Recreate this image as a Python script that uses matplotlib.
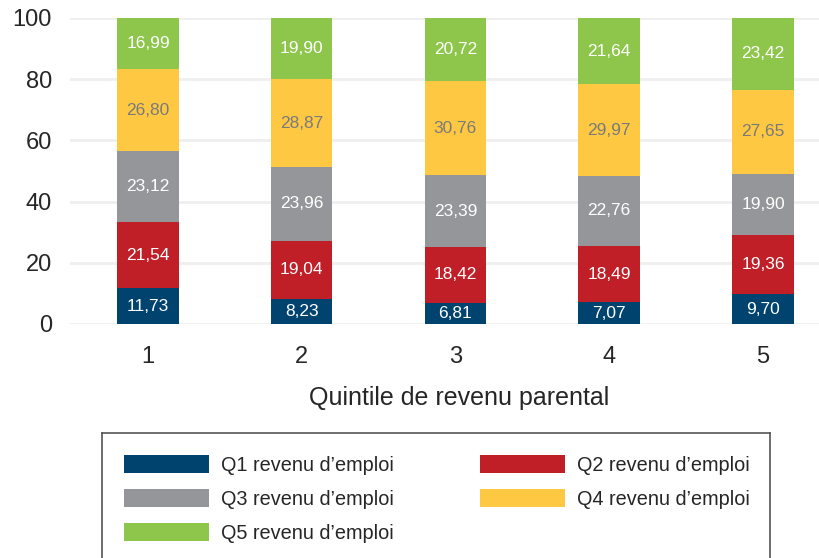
import numpy as np
import matplotlib.pyplot as plt

plt.rcParams['font.family'] = ['Liberation Sans', 'DejaVu Sans']

# Quintile de revenu parental (1..5) et répartition par quintile de revenu d'emploi
quintiles = ['1', '2', '3', '4', '5']
series_names = ['Q1 revenu d\u2019emploi', 'Q2 revenu d\u2019emploi', 'Q3 revenu d\u2019emploi',
                'Q4 revenu d\u2019emploi', 'Q5 revenu d\u2019emploi']
q1 = [11.73, 8.23, 6.81, 7.07, 9.70]
q2 = [21.54, 19.04, 18.42, 18.49, 19.36]
q3 = [23.12, 23.96, 23.39, 22.76, 19.90]
q4 = [26.80, 28.87, 30.76, 29.97, 27.65]
q5 = [16.99, 19.90, 20.72, 21.64, 23.42]

couleurs = ['#00436f', '#c01f27', '#959699', '#fec843', '#8dc64b']
couleurs_texte = ['white', 'white', 'white', '#7a7a7a', 'white']

fig = plt.figure(figsize=(8.2, 5.58), dpi=100)
# l'axe déborde un peu à droite de la figure
ax = fig.add_axes([70 / 820, 1 - 324 / 558, 778 / 820, 306 / 558])

x = np.arange(1, len(quintiles) + 1)
bas = np.zeros(len(quintiles))
conteneurs = []
for valeurs, nom, coul, coul_txt in zip([q1, q2, q3, q4, q5], series_names, couleurs, couleurs_texte):
    valeurs = np.array(valeurs)
    barres = ax.bar(x, valeurs, 0.40, bottom=bas, color=coul, label=nom, zorder=2)
    ax.bar_label(barres, labels=[f'{v:.2f}'.replace('.', ',') for v in valeurs],
                 label_type='center', color=coul_txt, fontsize=12.5)
    conteneurs.append(barres)
    bas += valeurs

ax.set_ylim(0, 100)
ax.set_xlim(0.493, 5.553)
ax.set_yticks(range(0, 101, 20))
ax.set_xticks(x)
ax.set_xticklabels(quintiles)
ax.grid(axis='y', color='#efefef', linewidth=2, zorder=0)
ax.tick_params(length=0, labelsize=17, colors='#262626')
ax.tick_params(axis='x', pad=16)
ax.tick_params(axis='y', pad=13)
for s in ax.spines.values():
    s.set_visible(False)
ax.set_xlabel('Quintile de revenu parental', fontsize=18, color='#262626', labelpad=13)

# Légende dans un cadre qui déborde en bas, remplie ligne par ligne
ax_leg = fig.add_axes([102 / 820, -0.05, 668 / 820, (558 - 433) / 558 + 0.05])
ax_leg.set_xticks([])
ax_leg.set_yticks([])
for s in ax_leg.spines.values():
    s.set_color('#555555')
    s.set_linewidth(1.2)
ordre = [0, 2, 4, 1, 3]
ax_leg.legend([conteneurs[i] for i in ordre], [series_names[i] for i in ordre],
              ncol=2, loc='upper left', bbox_to_anchor=(0, 1),
              frameon=False, fontsize=14.3, handlelength=4.27, handleheight=1.05,
              handletextpad=0.6, columnspacing=4.37, labelspacing=0.7,
              borderaxespad=0, borderpad=1.1, labelcolor='#262626')

fig.savefig('out.png', dpi=100)
